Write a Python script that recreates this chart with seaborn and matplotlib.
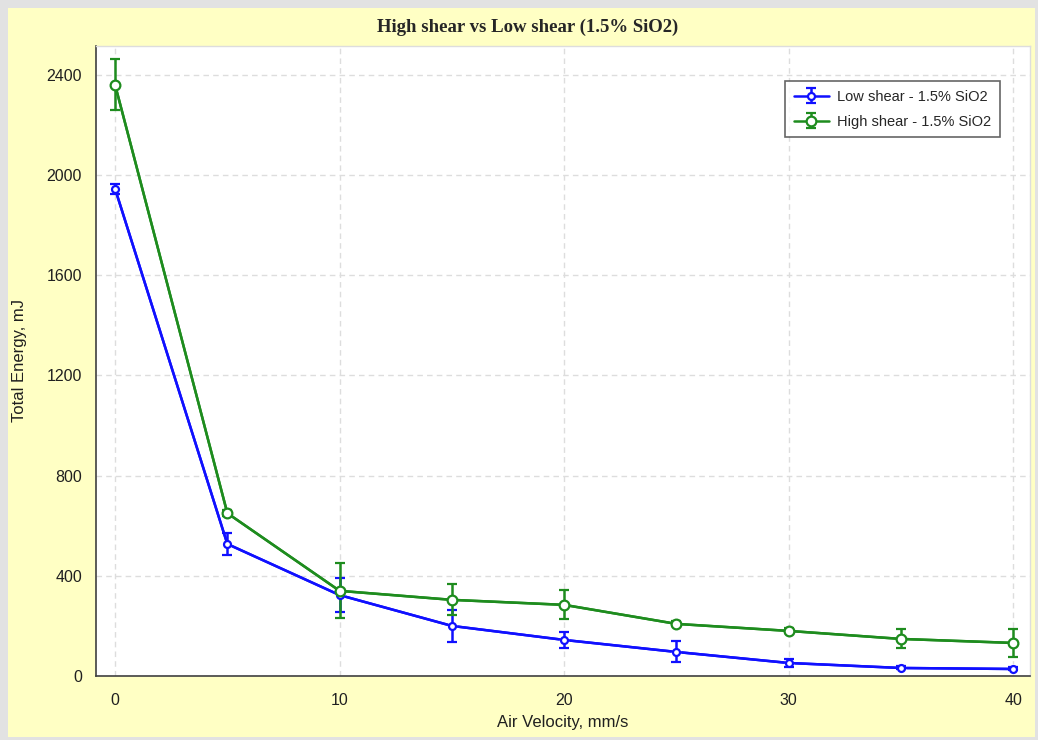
import pandas as pd
import seaborn as sns
import matplotlib.pyplot as plt
from matplotlib.patches import Rectangle

# Data
velocity = [0, 5, 10, 15, 20, 25, 30, 35, 40]
low_energy = [1945, 527, 323, 200, 144, 96, 52, 32, 28]
low_err = [20, 44, 68, 64, 32, 42, 16, 6, 6]
high_energy = [2360, 650, 340, 304, 284, 208, 180, 148, 132]
high_err = [102, 12, 110, 62, 58, 10, 10, 38, 56]
labels = ['Low shear - 1.5% SiO2', 'High shear - 1.5% SiO2']
colors = ['#1010FF', '#1E8C1E']

df = pd.DataFrame({
    'velocity': velocity * 2,
    'energy': low_energy + high_energy,
    'err': low_err + high_err,
    'series': [labels[0]] * len(velocity) + [labels[1]] * len(velocity),
})

sns.set_style('white')
plt.rcParams['font.family'] = ['Liberation Sans', 'DejaVu Sans']

fig = plt.figure(figsize=(10.38, 7.4), dpi=100, facecolor='#E2E2E2')
# yellow panel behind everything
fig.patches.append(Rectangle((8 / 1038, 3 / 740), 1027 / 1038, 729 / 740,
                             transform=fig.transFigure, facecolor='#FFFFC4',
                             edgecolor='none', zorder=-10))
ax = fig.add_axes([96 / 1038, 64 / 740, 934 / 1038, 630 / 740])
ax.set_zorder(1)
ax.set_facecolor('white')

# Lines with markers
sns.lineplot(data=df, x='velocity', y='energy', hue='series', palette=colors,
             hue_order=labels, marker='o', markersize=6, markerfacecolor='white',
             markeredgewidth=1.6, linewidth=1.8, ax=ax, legend=False, zorder=3)

# Error bars and legend handles
handles = []
for lab, col, ms in zip(labels, colors, [5, 7]):
    sub = df[df['series'] == lab]
    h = ax.errorbar(sub['velocity'], sub['energy'], yerr=sub['err'], fmt='-o',
                    color=col, ecolor=col, elinewidth=1.8, capsize=3.5,
                    capthick=1.8, markersize=ms, markerfacecolor='white',
                    markeredgewidth=1.6, linewidth=1.8, label=lab, zorder=4)
    handles.append(h)

ax.set_xlim(-0.85, 40.75)
ax.set_ylim(0, 2515)
ax.set_xticks([0, 10, 20, 30, 40])
ax.set_yticks([0, 400, 800, 1200, 1600, 2000, 2400])
ax.grid(True, color='#DDDDDD', linestyle=(0, (4, 3)), linewidth=1)
ax.tick_params(axis='both', direction='out', length=5, width=1.2, color='#707070',
               labelsize=11.5, labelcolor='#202020', pad=5)
ax.tick_params(axis='x', pad=7)

for side in ['top', 'right']:
    ax.spines[side].set_color('#DDDDDD')
    ax.spines[side].set_linewidth(1)
for side in ['left', 'bottom']:
    ax.spines[side].set_color('#404040')
    ax.spines[side].set_linewidth(1.2)

ax.set_xlabel('')
ax.set_ylabel('')
fig.text(563 / 1038, 1 - 722 / 740, 'Air Velocity, mm/s', ha='center', va='center',
         fontsize=12, color='#202020')
fig.text(20 / 1038, 1 - 360 / 740, 'Total Energy, mJ', ha='center', va='center',
         rotation=90, fontsize=12, color='#202020')
fig.text(528 / 1038, 1 - 27 / 740, 'High shear vs Low shear (1.5% SiO2)',
         ha='center', va='center', fontsize=13.5, fontweight='bold',
         family=['Liberation Serif', 'DejaVu Serif'])

leg = ax.legend(handles=handles, labels=labels, loc='upper right',
                bbox_to_anchor=(0.976, 0.956), fontsize=10.5, frameon=True,
                fancybox=False, edgecolor='#404040', handlelength=2.4,
                borderpad=0.6, labelspacing=0.75, handletextpad=0.6)
leg.get_frame().set_linewidth(1.2)

fig.savefig('out.png', dpi=100, facecolor=fig.get_facecolor())
